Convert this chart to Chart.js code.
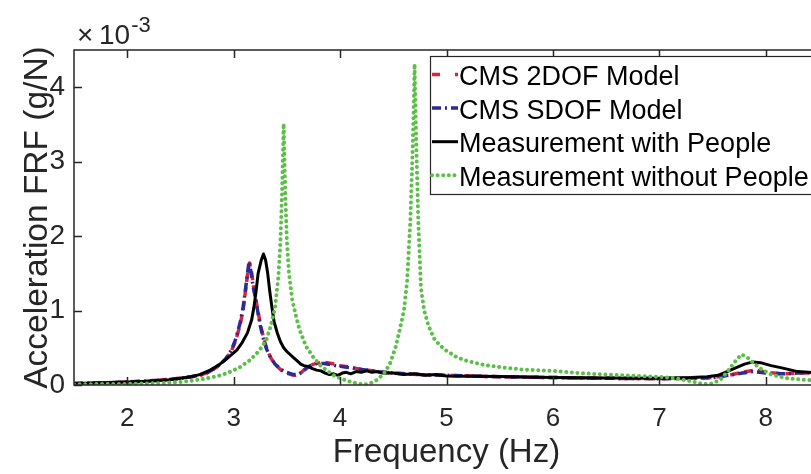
<!DOCTYPE html>
<html>
<head>
<meta charset="utf-8">
<script src="https://cdn.jsdelivr.net/npm/chart.js@4/dist/chart.umd.min.js"></script>
<style>
  html, body { margin: 0; padding: 0; background: #fff; width: 811px; height: 474px; overflow: hidden; }
  #wrap { position: relative; width: 830px; height: 474px; }
</style>
</head>
<body>
<div id="wrap"><canvas id="frf" width="830" height="474"></canvas></div>
<script>
// Acceleration FRF (units of 1e-3 g/N) versus frequency (Hz)

const SERIES_NAMES = ['CMS 2DOF Model', 'CMS SDOF Model', 'Measurement with People', 'Measurement without People'];

const FREQ_2DOF = [1.5, 1.8, 2.0, 2.2, 2.4, 2.6, 2.68, 2.76, 2.84, 2.92, 2.98, 3.02, 3.06, 3.09, 3.11, 3.13, 3.15, 3.17, 3.185, 3.205, 3.23, 3.255, 3.285, 3.315, 3.355, 3.395, 3.445, 3.5, 3.55, 3.58, 3.62, 3.66, 3.7, 3.75, 3.82, 3.88, 3.95, 4.0, 4.1, 4.2, 4.35, 4.5, 4.75, 5.0, 5.5, 6.0, 6.5, 7.0, 7.3, 7.5, 7.65, 7.78, 7.9, 8.02, 8.15, 8.3, 8.5];
const FRF_2DOF  = [0.02, 0.03, 0.04, 0.055, 0.075, 0.11, 0.13, 0.17, 0.24, 0.34, 0.46, 0.6, 0.8, 1.02, 1.25, 1.48, 1.64, 1.5, 1.34, 1.18, 0.98, 0.79, 0.61, 0.47, 0.35, 0.27, 0.2, 0.16, 0.135, 0.13, 0.15, 0.2, 0.25, 0.28, 0.3, 0.3, 0.28, 0.26, 0.24, 0.21, 0.18, 0.16, 0.14, 0.13, 0.11, 0.1, 0.09, 0.085, 0.09, 0.1, 0.13, 0.17, 0.2, 0.17, 0.15, 0.16, 0.16];

const FREQ_SDOF = [1.5, 1.8, 2.0, 2.2, 2.4, 2.6, 2.68, 2.76, 2.84, 2.92, 2.98, 3.02, 3.06, 3.09, 3.11, 3.13, 3.145, 3.165, 3.18, 3.2, 3.225, 3.25, 3.28, 3.31, 3.35, 3.39, 3.44, 3.5, 3.56, 3.6, 3.64, 3.68, 3.72, 3.78, 3.85, 3.92, 4.0, 4.1, 4.2, 4.35, 4.5, 4.75, 5.0, 5.5, 6.0, 6.5, 7.0, 7.3, 7.5, 7.65, 7.78, 7.88, 8.0, 8.15, 8.3, 8.5];
const FRF_SDOF  = [0.02, 0.03, 0.04, 0.055, 0.075, 0.11, 0.13, 0.17, 0.24, 0.34, 0.47, 0.62, 0.83, 1.05, 1.27, 1.5, 1.66, 1.5, 1.35, 1.2, 1.0, 0.8, 0.62, 0.48, 0.36, 0.28, 0.21, 0.17, 0.14, 0.14, 0.17, 0.22, 0.26, 0.29, 0.29, 0.27, 0.25, 0.23, 0.21, 0.18, 0.16, 0.14, 0.13, 0.11, 0.1, 0.09, 0.085, 0.09, 0.1, 0.13, 0.16, 0.18, 0.16, 0.15, 0.16, 0.17];

const FREQ_PEOPLE = [1.5, 1.8, 2.0, 2.2, 2.4, 2.6, 2.68, 2.78, 2.87, 2.95, 3.03, 3.08, 3.13, 3.17, 3.19, 3.21, 3.23, 3.26, 3.28, 3.3, 3.32, 3.34, 3.36, 3.38, 3.41, 3.44, 3.47, 3.5, 3.53, 3.56, 3.6, 3.63, 3.66, 3.7, 3.74, 3.78, 3.82, 3.86, 3.9, 3.94, 3.98, 4.02, 4.06, 4.1, 4.15, 4.2, 4.25, 4.3, 4.35, 4.4, 4.5, 4.6, 4.7, 4.8, 4.9, 5.0, 5.5, 6.0, 6.5, 7.0, 7.3, 7.45, 7.55, 7.62, 7.7, 7.8, 7.88, 7.95, 8.05, 8.15, 8.3, 8.5];
const FRF_PEOPLE  = [0.02, 0.03, 0.04, 0.05, 0.07, 0.11, 0.14, 0.2, 0.28, 0.37, 0.47, 0.57, 0.7, 0.88, 1.04, 1.25, 1.5, 1.68, 1.76, 1.68, 1.5, 1.25, 1.04, 0.85, 0.7, 0.58, 0.5, 0.45, 0.41, 0.37, 0.32, 0.28, 0.26, 0.25, 0.22, 0.2, 0.19, 0.16, 0.14, 0.15, 0.13, 0.16, 0.17, 0.15, 0.18, 0.17, 0.19, 0.17, 0.18, 0.16, 0.16, 0.14, 0.15, 0.13, 0.14, 0.12, 0.115, 0.1, 0.095, 0.09, 0.1, 0.11, 0.13, 0.17, 0.22, 0.28, 0.31, 0.3, 0.26, 0.23, 0.18, 0.16];

const FREQ_EMPTY = [1.5, 2.0, 2.3, 2.5, 2.62, 2.75, 2.85, 2.94, 3.05, 3.15, 3.22, 3.27, 3.31, 3.35, 3.39, 3.42, 3.44, 3.455, 3.47, 3.485, 3.5, 3.52, 3.55, 3.59, 3.62, 3.68, 3.75, 3.81, 3.87, 3.94, 4.0, 4.06, 4.12, 4.18, 4.23, 4.28, 4.35, 4.42, 4.47, 4.52, 4.56, 4.6, 4.63, 4.66, 4.685, 4.7, 4.715, 4.735, 4.76, 4.79, 4.83, 4.88, 4.94, 5.0, 5.1, 5.2, 5.35, 5.5, 5.7, 5.9, 6.0, 6.25, 6.5, 6.75, 7.0, 7.15, 7.3, 7.42, 7.5, 7.58, 7.65, 7.72, 7.77, 7.82, 7.88, 7.95, 8.05, 8.2, 8.35, 8.5];
const FRF_EMPTY  = [0.01, 0.015, 0.025, 0.04, 0.06, 0.09, 0.12, 0.16, 0.23, 0.33, 0.43, 0.52, 0.62, 0.8, 1.05, 1.45, 1.94, 2.6, 3.51, 2.6, 1.94, 1.5, 1.15, 0.9, 0.74, 0.52, 0.37, 0.27, 0.2, 0.13, 0.09, 0.06, 0.035, 0.015, 0.005, 0.02, 0.07, 0.17, 0.29, 0.5, 0.74, 1.0, 1.4, 2.2, 3.3, 4.31, 3.3, 2.2, 1.3, 1.0, 0.8, 0.63, 0.53, 0.46, 0.37, 0.32, 0.27, 0.24, 0.21, 0.195, 0.19, 0.16, 0.14, 0.125, 0.11, 0.09, 0.05, 0.01, 0.02, 0.08, 0.2, 0.33, 0.41, 0.38, 0.3, 0.22, 0.14, 0.09, 0.07, 0.06];

const X_TICKS = [2, 3, 4, 5, 6, 7, 8];
const Y_TICKS = [0, 1, 2, 3, 4];
const X_RANGE = [1.5, 8.5];
const Y_RANGE = [0, 4.5];
const Y_EXPONENT = '-3';

const FONT = '"Liberation Sans", Arial, Helvetica, sans-serif';
const AXIS_COLOR = '#262626';

const toPoints = (xs, ys) => xs.map((x, i) => ({ x, y: ys[i] }));

// Box around the axes with inward tick marks, plus the exponent note above the y axis
const axesFrame = {
  id: 'axesFrame',
  afterDatasetsDraw(chart) {
    const { ctx, chartArea: a, scales: { x, y } } = chart;
    const TL = 8;
    ctx.save();
    ctx.strokeStyle = AXIS_COLOR;
    ctx.lineWidth = 1.5;
    ctx.beginPath();
    ctx.rect(a.left, a.top, a.right - a.left, a.bottom - a.top);
    x.ticks.forEach(t => {
      const px = Math.round(x.getPixelForValue(t.value)) + 0.5;
      ctx.moveTo(px, a.bottom); ctx.lineTo(px, a.bottom - TL);
      ctx.moveTo(px, a.top); ctx.lineTo(px, a.top + TL);
    });
    y.ticks.forEach(t => {
      const py = Math.round(y.getPixelForValue(t.value)) + 0.5;
      ctx.moveTo(a.left, py); ctx.lineTo(a.left + TL, py);
      ctx.moveTo(a.right, py); ctx.lineTo(a.right - TL, py);
    });
    ctx.stroke();

    ctx.fillStyle = AXIS_COLOR;
    ctx.textBaseline = 'alphabetic';
    ctx.textAlign = 'left';
    ctx.font = '28px ' + FONT;
    ctx.fillText('\u00d7', a.left + 3, 44);
    ctx.fillText('10', a.left + 25, 44);
    const w10 = ctx.measureText('10').width;
    ctx.font = '22px ' + FONT;
    ctx.fillText(Y_EXPONENT, a.left + 25 + w10 + 1, 32);
    ctx.restore();
  }
};

// Boxed legend placed inside the plot, top right
const boxedLegend = {
  id: 'boxedLegend',
  afterDraw(chart) {
    const { ctx } = chart;
    const sets = chart.data.datasets;
    const L = 430, T = 56, H = 138, rowH = 33.6, firstRow = 77.5;
    ctx.save();
    ctx.font = '27px ' + FONT;
    const textW = Math.max(...sets.map(d => ctx.measureText(d.label).width));
    const W = 29 + textW + 8;
    ctx.fillStyle = '#fff';
    ctx.fillRect(L, T, W, H);
    ctx.strokeStyle = AXIS_COLOR;
    ctx.lineWidth = 1.2;
    ctx.strokeRect(L + 0.5, T + 0.5, W, H);
    sets.forEach((d, i) => {
      const cy = firstRow + i * rowH;
      ctx.beginPath();
      ctx.setLineDash(d.legendDash || d.borderDash || []);
      ctx.lineCap = d.borderCapStyle || 'butt';
      ctx.lineWidth = d.borderWidth;
      ctx.strokeStyle = d.borderColor;
      ctx.moveTo(L + 2, cy - 3);
      ctx.lineTo(L + 28, cy - 3);
      ctx.stroke();
      ctx.setLineDash([]);
      ctx.fillStyle = '#000';
      ctx.textBaseline = 'middle';
      ctx.textAlign = 'left';
      ctx.fillText(d.label, L + 29, cy);
    });
    ctx.restore();
  }
};

new Chart(document.getElementById('frf'), {
  type: 'line',
  data: {
    datasets: [
      {
        label: SERIES_NAMES[0],
        data: toPoints(FREQ_2DOF, FRF_2DOF),
        borderColor: '#de2236',
        borderWidth: 3.5,
        borderDash: [9, 5],
        legendDash: [8, 15],
        order: 3
      },
      {
        label: SERIES_NAMES[1],
        data: toPoints(FREQ_SDOF, FRF_SDOF),
        borderColor: '#2b2b98',
        borderWidth: 3.5,
        borderDash: [9, 4, 2, 4],
        order: 2
      },
      {
        label: SERIES_NAMES[2],
        data: toPoints(FREQ_PEOPLE, FRF_PEOPLE),
        borderColor: '#000000',
        borderWidth: 3,
        order: 1
      },
      {
        label: SERIES_NAMES[3],
        data: toPoints(FREQ_EMPTY, FRF_EMPTY),
        borderColor: '#5cbf48',
        borderWidth: 4,
        borderDash: [0.01, 5.6],
        borderCapStyle: 'round',
        order: 0
      }
    ]
  },
  options: {
    responsive: false,
    animation: false,
    devicePixelRatio: 1,
    elements: {
      point: { radius: 0, hoverRadius: 0 },
      line: { tension: 0, fill: false, borderJoinStyle: 'round' }
    },
    layout: { padding: { top: 50, right: 11, left: 0, bottom: 0 } },
    plugins: {
      legend: { display: false },
      tooltip: { enabled: false }
    },
    scales: {
      x: {
        type: 'linear',
        min: X_RANGE[0],
        max: X_RANGE[1],
        afterBuildTicks: s => { s.ticks = X_TICKS.map(v => ({ value: v })); },
        afterFit: s => { s.height = 89; },
        grid: { display: false, drawTicks: false },
        border: { display: false },
        ticks: {
          padding: 18,
          color: AXIS_COLOR,
          font: { family: FONT, size: 26 },
          callback: v => String(v)
        },
        title: {
          display: true,
          text: 'Frequency (Hz)',
          color: AXIS_COLOR,
          font: { family: FONT, size: 33 },
          padding: { top: 0, bottom: 1 }
        }
      },
      y: {
        type: 'linear',
        min: Y_RANGE[0],
        max: Y_RANGE[1],
        afterBuildTicks: s => { s.ticks = Y_TICKS.map(v => ({ value: v })); },
        afterFit: s => { s.width = 74; },
        grid: { display: false, drawTicks: false },
        border: { display: false },
        ticks: {
          padding: 9,
          color: AXIS_COLOR,
          font: { family: FONT, size: 28 },
          callback: v => String(v)
        },
        title: {
          display: true,
          text: 'Acceleration FRF (g/N)',
          color: AXIS_COLOR,
          font: { family: FONT, size: 33.5 },
          padding: { top: 18, bottom: 0 }
        }
      }
    }
  },
  plugins: [axesFrame, boxedLegend]
});
</script>
</body>
</html>
